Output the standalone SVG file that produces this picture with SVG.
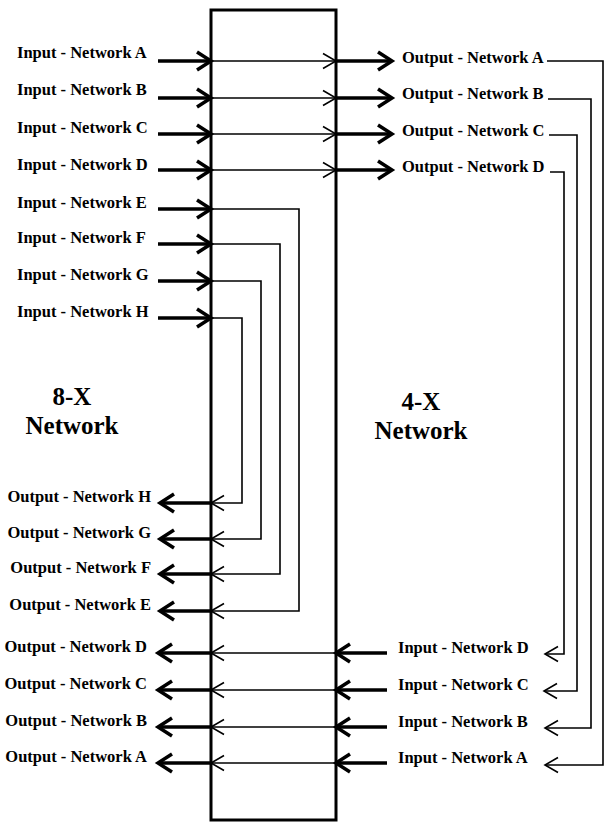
<svg xmlns="http://www.w3.org/2000/svg" width="605" height="823" viewBox="0 0 605 823">
<style>
.lbl{font-family:"Liberation Serif","Times New Roman",serif;font-size:16.5px;font-weight:bold;fill:#000}
.big{font-family:"Liberation Serif","Times New Roman",serif;font-size:25px;font-weight:bold;fill:#000;text-anchor:middle}
.thick{stroke:#000;stroke-width:3.5;fill:none}
.thin{stroke:#000;stroke-width:1.6;fill:none}
.e{text-anchor:end}
</style>
<defs>
<marker id="hk" markerUnits="userSpaceOnUse" viewBox="-20 -15 30 30" markerWidth="30" markerHeight="30" refX="0" refY="0" orient="auto">
<path d="M-14,-9 L0,0 L-14,9" fill="none" stroke="#000" stroke-width="3.5" stroke-linejoin="miter"/>
</marker>
<marker id="hn" markerUnits="userSpaceOnUse" viewBox="-20 -15 30 30" markerWidth="30" markerHeight="30" refX="0" refY="0" orient="auto">
<path d="M-13,-7.5 L0,0 L-13,7.5" fill="none" stroke="#000" stroke-width="1.6"/>
</marker>
</defs>
<rect width="605" height="823" fill="#fff"/>

<g id="switch-box">
<rect x="211" y="10" width="125" height="810" fill="none" stroke="#000" stroke-width="3"/>
</g>

<g id="net-8x">
<text class="big" x="72" y="405">8-X</text>
<text class="big" x="72" y="434">Network</text>
</g>
<g id="net-4x">
<text class="big" x="421" y="410">4-X</text>
<text class="big" x="421" y="439">Network</text>
</g>

<g id="in8-A"><text class="lbl" x="17" y="58">Input - Network A</text></g>
<g id="in8-B"><text class="lbl" x="17" y="95">Input - Network B</text></g>
<g id="in8-C"><text class="lbl" x="17" y="133">Input - Network C</text></g>
<g id="in8-D"><text class="lbl" x="17" y="170">Input - Network D</text></g>
<g id="in8-E"><text class="lbl" x="17" y="208">Input - Network E</text></g>
<g id="in8-F"><text class="lbl" x="17" y="243">Input - Network F</text></g>
<g id="in8-G"><text class="lbl" x="17" y="280">Input - Network G</text></g>
<g id="in8-H"><text class="lbl" x="17" y="317">Input - Network H</text></g>

<g id="out8-H"><text class="lbl e" x="151" y="502">Output - Network H</text></g>
<g id="out8-G"><text class="lbl e" x="151" y="538">Output - Network G</text></g>
<g id="out8-F"><text class="lbl e" x="151" y="573">Output - Network F</text></g>
<g id="out8-E"><text class="lbl e" x="151" y="610">Output - Network E</text></g>
<g id="out8-D"><text class="lbl e" x="147" y="652">Output - Network D</text></g>
<g id="out8-C"><text class="lbl e" x="147" y="689">Output - Network C</text></g>
<g id="out8-B"><text class="lbl e" x="147" y="726">Output - Network B</text></g>
<g id="out8-A"><text class="lbl e" x="147" y="762">Output - Network A</text></g>

<g id="out4-A"><text class="lbl" x="402" y="63">Output - Network A</text></g>
<g id="out4-B"><text class="lbl" x="402" y="99">Output - Network B</text></g>
<g id="out4-C"><text class="lbl" x="402" y="136">Output - Network C</text></g>
<g id="out4-D"><text class="lbl" x="402" y="172">Output - Network D</text></g>

<g id="in4-D"><text class="lbl" x="398" y="653">Input - Network D</text></g>
<g id="in4-C"><text class="lbl" x="398" y="690">Input - Network C</text></g>
<g id="in4-B"><text class="lbl" x="398" y="727">Input - Network B</text></g>
<g id="in4-A"><text class="lbl" x="398" y="763">Input - Network A</text></g>

<g id="connectors">
<line class="thick" x1="158" y1="61" x2="211" y2="61" marker-end="url(#hk)"/>
<line class="thin" x1="211" y1="61" x2="336" y2="61" marker-end="url(#hn)"/>
<line class="thick" x1="336" y1="61" x2="392" y2="61" marker-end="url(#hk)"/>
<line class="thick" x1="158" y1="98" x2="211" y2="98" marker-end="url(#hk)"/>
<line class="thin" x1="211" y1="98" x2="336" y2="98" marker-end="url(#hn)"/>
<line class="thick" x1="336" y1="98" x2="392" y2="98" marker-end="url(#hk)"/>
<line class="thick" x1="158" y1="134" x2="211" y2="134" marker-end="url(#hk)"/>
<line class="thin" x1="211" y1="134" x2="336" y2="134" marker-end="url(#hn)"/>
<line class="thick" x1="336" y1="134" x2="392" y2="134" marker-end="url(#hk)"/>
<line class="thick" x1="158" y1="170" x2="211" y2="170" marker-end="url(#hk)"/>
<line class="thin" x1="211" y1="170" x2="336" y2="170" marker-end="url(#hn)"/>
<line class="thick" x1="336" y1="170" x2="392" y2="170" marker-end="url(#hk)"/>

<line class="thick" x1="158" y1="209" x2="211" y2="209" marker-end="url(#hk)"/>
<polyline class="thin" points="211,209 299,209 299,611 211,611" marker-end="url(#hn)"/>
<line class="thick" x1="211" y1="611" x2="160" y2="611" marker-end="url(#hk)"/>
<line class="thick" x1="158" y1="244" x2="211" y2="244" marker-end="url(#hk)"/>
<polyline class="thin" points="211,244 280,244 280,574 211,574" marker-end="url(#hn)"/>
<line class="thick" x1="211" y1="574" x2="160" y2="574" marker-end="url(#hk)"/>
<line class="thick" x1="158" y1="281" x2="211" y2="281" marker-end="url(#hk)"/>
<polyline class="thin" points="211,281 261,281 261,539 211,539" marker-end="url(#hn)"/>
<line class="thick" x1="211" y1="539" x2="160" y2="539" marker-end="url(#hk)"/>
<line class="thick" x1="158" y1="318" x2="211" y2="318" marker-end="url(#hk)"/>
<polyline class="thin" points="211,318 242,318 242,503 211,503" marker-end="url(#hn)"/>
<line class="thick" x1="211" y1="503" x2="160" y2="503" marker-end="url(#hk)"/>

<polyline class="thin" points="547,61 603,61 603,765 545,765" marker-end="url(#hn)"/>
<polyline class="thin" points="548,99 591,99 591,728 545,728" marker-end="url(#hn)"/>
<polyline class="thin" points="549,135 577,135 577,691 544,691" marker-end="url(#hn)"/>
<polyline class="thin" points="550,172 564,172 564,654 545,654" marker-end="url(#hn)"/>

<line class="thick" x1="387" y1="653" x2="336" y2="653" marker-end="url(#hk)"/>
<line class="thin" x1="336" y1="653" x2="211" y2="653" marker-end="url(#hn)"/>
<line class="thick" x1="211" y1="653" x2="158" y2="653" marker-end="url(#hk)"/>
<line class="thick" x1="387" y1="690" x2="336" y2="690" marker-end="url(#hk)"/>
<line class="thin" x1="336" y1="690" x2="211" y2="690" marker-end="url(#hn)"/>
<line class="thick" x1="211" y1="690" x2="158" y2="690" marker-end="url(#hk)"/>
<line class="thick" x1="387" y1="727" x2="336" y2="727" marker-end="url(#hk)"/>
<line class="thin" x1="336" y1="727" x2="211" y2="727" marker-end="url(#hn)"/>
<line class="thick" x1="211" y1="727" x2="158" y2="727" marker-end="url(#hk)"/>
<line class="thick" x1="387" y1="763" x2="336" y2="763" marker-end="url(#hk)"/>
<line class="thin" x1="336" y1="763" x2="211" y2="763" marker-end="url(#hn)"/>
<line class="thick" x1="211" y1="763" x2="158" y2="763" marker-end="url(#hk)"/>
</g>
</svg>
